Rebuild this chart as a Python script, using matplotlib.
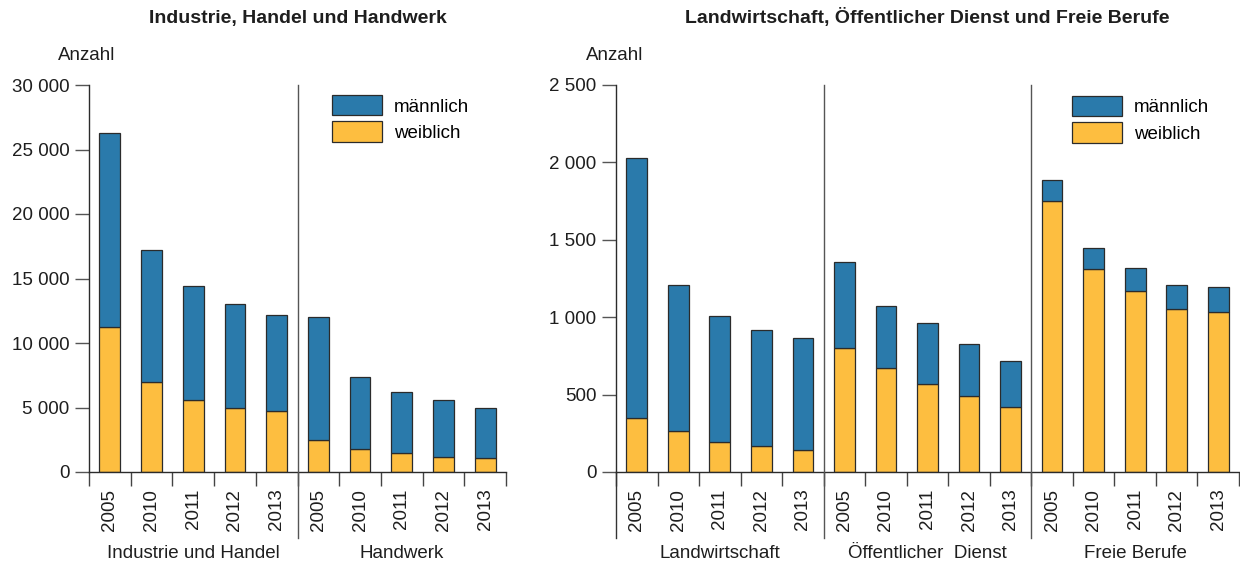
import numpy as np
import matplotlib
matplotlib.use("Agg")
import matplotlib.pyplot as plt
import matplotlib.transforms as mtransforms
from matplotlib.patches import Patch

plt.rcParams['font.family'] = ['Liberation Sans', 'DejaVu Sans']

# Data
years = ['2005', '2010', '2011', '2012', '2013']

left_groups = ['Industrie und Handel', 'Handwerk']
left_total = [26300, 17200, 14400, 13000, 12150,
              12000, 7400, 6200, 5550, 5000]
left_female = [11250, 7000, 5550, 5000, 4700,
               2500, 1750, 1450, 1200, 1050]

right_groups = ['Landwirtschaft', 'Öffentlicher  Dienst', 'Freie Berufe']
right_total = [2030, 1210, 1010, 920, 865,
               1355, 1070, 960, 830, 715,
               1885, 1450, 1320, 1210, 1195]
right_female = [350, 265, 195, 165, 140,
                800, 670, 570, 490, 420,
                1750, 1310, 1170, 1050, 1035]

titles = ['Industrie, Handel und Handwerk',
          'Landwirtschaft, Öffentlicher Dienst und Freie Berufe']
left_ticks = [0, 5000, 10000, 15000, 20000, 25000, 30000]
right_ticks = [0, 500, 1000, 1500, 2000, 2500]

BLUE = '#2a7aab'
YELLOW = '#fdbe40'
EDGE = '#2b2b2b'
TXT = '#1e1e1e'
FS = 13.5

fig = plt.figure(figsize=(12.4, 5.62), dpi=100)
ax_l = fig.add_axes([89/1240, 1-472/562, 417/1240, 387/562])
ax_r = fig.add_axes([616/1240, 1-472/562, 623/1240, 387/562])


def fmt(v):
    return f"{v:,}".replace(',', ' ')


def draw_panel(ax, groups, total, female, yticks, title, extend_left):
    n = len(total)
    x = np.arange(n)
    male = np.array(total) - np.array(female)
    ax.bar(x, female, width=0.5, color=YELLOW, edgecolor=EDGE, linewidth=0.9, zorder=2)
    ax.bar(x, male, bottom=female, width=0.5, color=BLUE, edgecolor=EDGE, linewidth=0.9, zorder=2)
    ax.set_xlim(-0.5, n - 0.5)
    ax.set_ylim(0, yticks[-1])
    for s in ['top', 'right']:
        ax.spines[s].set_visible(False)
    for s in ['left', 'bottom']:
        ax.spines[s].set_color(EDGE)
        ax.spines[s].set_linewidth(1.0)
    ax.set_yticks(yticks)
    ax.set_yticklabels([fmt(v) for v in yticks], fontsize=FS, color=TXT)
    ax.tick_params(axis='y', direction='out', length=10, width=1.0, color='#555555', pad=4)
    ax.set_xticks(x)
    ax.set_xticklabels(years * len(groups), rotation=90, fontsize=FS, color=TXT)
    ax.tick_params(axis='x', which='major', length=0, pad=12)
    ax.set_xticks(np.arange(-0.5, n, 1.0), minor=True)
    ax.tick_params(axis='x', which='minor', direction='out', length=10, width=1.0, color='#444444')

    trans = mtransforms.blended_transform_factory(ax.transData, ax.transAxes)
    k = len(years)
    for g, name in enumerate(groups):
        ax.text(g * k + (k - 1) / 2, -0.21, name, transform=trans, ha='center', va='center',
                fontsize=FS, color=TXT)
        if g > 0:
            ax.plot([g * k - 0.5, g * k - 0.5], [1.0, -0.17], transform=trans, color='#555555',
                    linewidth=1.0, clip_on=False, zorder=3)
    if extend_left:
        ax.plot([-0.5, -0.5], [0, -0.17], transform=trans, color='#333333',
                linewidth=1.0, clip_on=False)
    pos = ax.get_position()
    fig.text((pos.x0 + pos.x1) / 2, 1 - 18/562, title, fontsize=14,
             fontweight='bold', ha='center', va='center', color=TXT)


draw_panel(ax_l, left_groups, left_total, left_female, left_ticks, titles[0], False)
draw_panel(ax_r, right_groups, right_total, right_female, right_ticks, titles[1], True)

fig.text(58/1240, 1-55/562, 'Anzahl', fontsize=FS, ha='left', va='center', color=TXT)
fig.text(586/1240, 1-55/562, 'Anzahl', fontsize=FS, ha='left', va='center', color=TXT)

handles = [Patch(facecolor=BLUE, edgecolor=EDGE, linewidth=0.9, label='männlich'),
           Patch(facecolor=YELLOW, edgecolor=EDGE, linewidth=0.9, label='weiblich')]
for ax, pos in [(ax_l, (332/1240, 1-95/562)), (ax_r, (1072/1240, 1-96/562))]:
    ax.legend(handles=handles, loc='upper left', bbox_to_anchor=pos, bbox_transform=fig.transFigure,
              frameon=False, fontsize=FS, handlelength=2.67, handleheight=1.3,
              handletextpad=0.65, labelspacing=0.3, borderpad=0, borderaxespad=0)

fig.savefig('out.png', dpi=100)
